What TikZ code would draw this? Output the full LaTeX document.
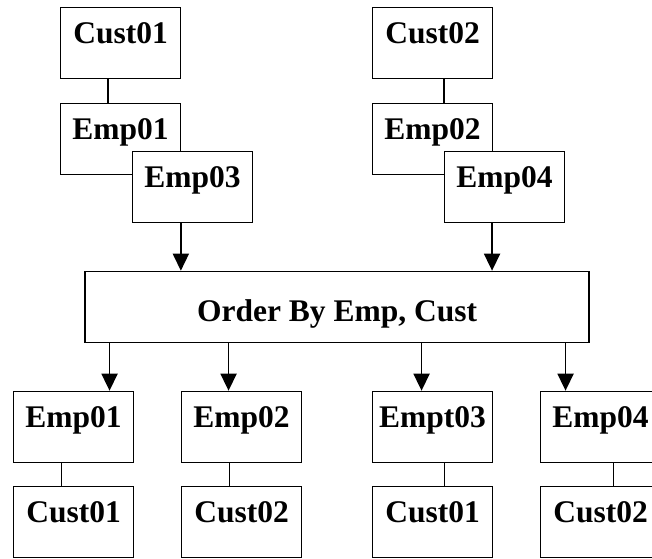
\documentclass[tikz,border=0pt]{standalone}
\usepackage{fontspec}
\setmainfont{Liberation Serif}
\usepackage{tikz}
\usetikzlibrary{arrows.meta, positioning, calc}

\newcommand{\tblfont}{\fontsize{31.5}{36}\selectfont\bfseries}

\tikzset{
  tbl/.style={draw, line width=1.7pt, fill=white, anchor=north west,
              minimum width=120pt, inner sep=0pt, text height=36pt,
              text depth=35pt, font=\tblfont},
  ordbox/.style={tbl, minimum width=504pt, text height=50pt, text depth=21pt},
  link/.style={line width=1.7pt},
  arr/.style={line width=1.7pt, -{Triangle[length=17pt, width=16pt]}}
}

\begin{document}
\begin{tikzpicture}[x=1pt, y=-1pt]
  \useasboundingbox (0,0) rectangle (652,558);

  % Table clients
  \node[tbl] (cA) at (59.7, 6.7) {Cust01};
  \node[tbl] (eA) at (59.7, 102.7) {Emp01};
  \node[tbl] (eC) at (131.7, 150.7) {Emp03};
  \node[tbl] (cB) at (371.7, 6.7) {Cust02};
  \node[tbl] (eB) at (371.7, 102.7) {Emp02};
  \node[tbl] (eD) at (443.7, 150.7) {Emp04};
  \draw[link] ([xshift=-12.5pt]cA.south) -- ([xshift=-12.5pt]eA.north);
  \draw[link] ([xshift=11.5pt]cB.south) -- ([xshift=11.5pt]eB.north);

  % Tri
  \node[ordbox] (ord) at (84.2, 270.7) {Order By Emp, Cust};
  \coordinate (tA) at ([xshift=-11.7pt]eC.south);
  \coordinate (tB) at ([xshift=-12.5pt]eD.south);
  \draw[arr] (tA) -- (tA |- ord.north);
  \draw[arr] (tB) -- (tB |- ord.north);

  % Resultat
  \foreach \i/\x/\e/\c/\a/\l in {1/12.7/Emp01/Cust01/36/-12,
                                 2/180.7/Emp02/Cust02/-13/-12,
                                 3/371.7/Empt03/Cust01/-11/12,
                                 4/539.7/Emp04/Cust02/-35/13} {
    \node[tbl] (e\i) at (\x, 390.7) {\e};
    \node[tbl] (c\i) at (\x, 485.7) {\c};
    \coordinate (b\i) at ([xshift=\a pt]e\i.north);
    \draw[arr] (ord.south -| b\i) -- (b\i);
    \draw[link] ([xshift=\l pt]e\i.south) -- ([xshift=\l pt]c\i.north);
  }
\end{tikzpicture}
\end{document}
